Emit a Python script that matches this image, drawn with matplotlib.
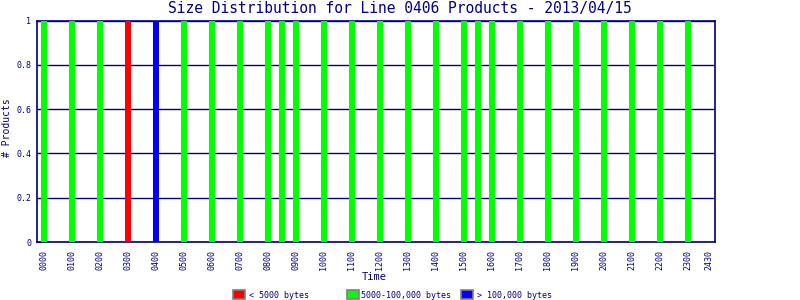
import matplotlib
matplotlib.use("Agg")
import matplotlib.pyplot as plt
from matplotlib.patches import Rectangle
import numpy as np

# 30-minute time slots
slot_labels = ["%02d%02d" % (h, m) for h in range(24) for m in (0, 30)]
tick_labels = ["%02d00" % h for h in range(24)] + ["2430"]

# counts per slot (# products), indexed by slot label
small_slots = {"0300": 1}
medium_slots = {"0000": 1, "0100": 1, "0200": 1, "0500": 1, "0600": 1, "0700": 1,
                "0800": 1, "0830": 1, "0900": 1, "1000": 1, "1100": 1, "1200": 1,
                "1300": 1, "1400": 1, "1500": 1, "1530": 1, "1600": 1, "1700": 1,
                "1800": 1, "1900": 1, "2000": 1, "2100": 1, "2200": 1, "2300": 1}
large_slots = {"0400": 1}

small = [small_slots.get(s, 0) for s in slot_labels]
medium = [medium_slots.get(s, 0) for s in slot_labels]
large = [large_slots.get(s, 0) for s in slot_labels]

series_names = ["< 5000 bytes", "5000-100,000 bytes", "> 100,000 bytes"]
colors = ["#FF0000", "#00FF00", "#0000FF"]
navy = "#000080"

plt.rcParams['font.family'] = ['DejaVu Sans Mono']

fig = plt.figure(figsize=(8, 3), dpi=100)
ax = fig.add_axes([37/800, 58/300, 678/800, 221.5/300])

x = np.arange(len(slot_labels))
s = np.array(small); m = np.array(medium); l = np.array(large)
w = 6/14
ax.bar(x, s, width=w, color=colors[0], zorder=3, linewidth=0)
ax.bar(x, m, width=w, bottom=s, color=colors[1], zorder=3, linewidth=0)
ax.bar(x, l, width=w, bottom=s + m, color=colors[2], zorder=3, linewidth=0)

ax.set_xlim(-0.5, 47.93)
ax.set_ylim(0, 1)
tick_pos = list(range(0, 48, 2)) + [47.5]
ax.set_xticks(tick_pos)
ax.set_xticklabels(tick_labels, rotation=90, fontsize=6, color=navy)
ax.tick_params(axis='x', length=0, pad=6)
yt = [0, 0.2, 0.4, 0.6, 0.8, 1]
ax.set_yticks(yt)
ax.set_yticklabels(["0", "0.2", "0.4", "0.6", "0.8", "1"], fontsize=6, color=navy)
ax.tick_params(axis='y', direction='in', length=3, color=navy, pad=4)
ax.yaxis.grid(True, color=navy, linewidth=1, zorder=1)
ax.set_axisbelow(True)
for sp in ax.spines.values():
    sp.set_color(navy)
    sp.set_linewidth(1.2)

fig.text(400/800, 1 - 8/300, "Size Distribution for Line 0406 Products - 2013/04/15",
         ha='center', va='center', fontsize=10.5, color=navy)
fig.text(7/800, 1 - 128/300, "# Products", rotation=90, ha='center', va='center',
         fontsize=7, color=navy)
fig.text(374/800, 1 - 277/300, "Time", ha='center', va='center', fontsize=7.5, color=navy)

# legend
for i, (name, c) in enumerate(zip(series_names, colors)):
    x0 = 233 + 114 * i
    fig.patches.append(Rectangle((x0/800, 1 - 300/300 + 1/300), 12/800, 9/300,
                                 transform=fig.transFigure, facecolor=c,
                                 edgecolor="#808080", linewidth=1.2))
    tx = x0 + 16 if i != 1 else x0 + 14
    fig.text(tx/800, 1 - 295/300, name, ha='left', va='center', fontsize=6, color=navy)

fig.savefig("out.png", dpi=100)
